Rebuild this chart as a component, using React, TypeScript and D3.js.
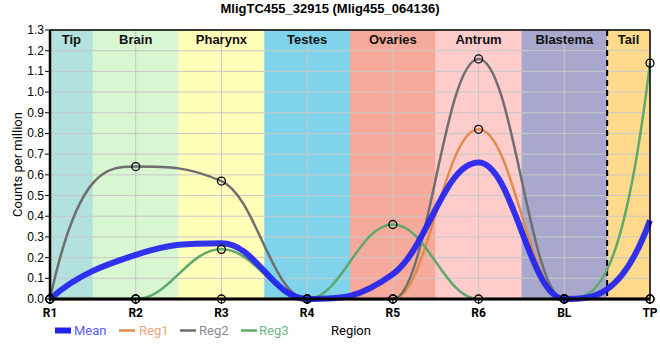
import React from "react";
import * as d3 from "d3";

const categories = ["R1", "R2", "R3", "R4", "R5", "R6", "BL", "TP"];
const reg1 = [0, 0, 0, 0, 0, 0.82, 0, 0];
const reg2 = [0, 0.64, 0.57, 0, 0, 1.16, 0, 0];
const reg3 = [0, 0, 0.24, 0, 0.36, 0, 0, 1.14];
const meanVals = reg1.map((v, i) => (v + reg2[i] + reg3[i]) / 3);
const regions = ["Tip", "Brain", "Pharynx", "Testes", "Ovaries", "Antrum", "Blastema", "Tail"];
const regionColors = ["#b3e2de", "#d7f6d1", "#ffffb8", "#7fd4eb", "#f5aa9b", "#ffcccc", "#a8a8cc", "#ffda8c"];
const yTicks = d3.range(0, 14).map((i) => i / 10);

const W = 660, H = 360;
const L = 50, R = 650, T = 30, B = 299;

function SplineCurve(this: any, context: any) {
  this._context = context;
}
SplineCurve.prototype = {
  areaStart() { this._line = 0; },
  areaEnd() { this._line = NaN; },
  lineStart() { this._pts = []; },
  point(x: number, y: number) { this._pts.push([+x, +y]); },
  lineEnd() {
    const p: number[][] = this._pts;
    const ctx = this._context;
    const n = p.length;
    if (!n) return;
    const s = 1.5, den = s + 1;
    const lc: (number[] | null)[] = [];
    const rc: (number[] | null)[] = [];
    for (let i = 0; i < n; i++) {
      if (i === 0 || i === n - 1) { lc.push(null); rc.push(null); continue; }
      const [px, py] = p[i];
      const [lx, ly] = p[i - 1];
      const [nx, ny] = p[i + 1];
      const lcx = (s * px + lx) / den;
      let lcy = (s * py + ly) / den;
      const rcx = (s * px + nx) / den;
      let rcy = (s * py + ny) / den;
      let corr = 0;
      if (rcx !== lcx) corr = ((rcy - lcy) * (rcx - px)) / (rcx - lcx) + py - rcy;
      lcy += corr; rcy += corr;
      if (lcy > ly && lcy > py) { lcy = Math.max(ly, py); rcy = 2 * py - lcy; }
      else if (lcy < ly && lcy < py) { lcy = Math.min(ly, py); rcy = 2 * py - lcy; }
      if (rcy > ny && rcy > py) { rcy = Math.max(ny, py); lcy = 2 * py - rcy; }
      else if (rcy < ny && rcy < py) { rcy = Math.min(ny, py); lcy = 2 * py - rcy; }
      lc.push([lcx, lcy]); rc.push([rcx, rcy]);
    }
    if (n > 2) {
      {
        // first segment as a Hermite cubic
        const h = p[1][0] - p[0][0];
        const d = (p[1][1] - p[0][1]) / h;
        const c1 = lc[1] as number[], c2 = rc[1] as number[];
        const m1 = (c2[1] - c1[1]) / (c2[0] - c1[0]);
        const m0 = 3 * d - 2 * m1;
        rc[0] = [p[0][0] + h / 3, p[0][1] + (m0 * h) / 3];
        const lc1 = [p[1][0] - h / 3, p[1][1] - (m1 * h) / 3];
        (this as any)._first = lc1;
      }
      {
        const h = p[n - 1][0] - p[n - 2][0];
        const d = (p[n - 1][1] - p[n - 2][1]) / h;
        const c1 = lc[n - 2] as number[], c2 = rc[n - 2] as number[];
        const m1 = (c2[1] - c1[1]) / (c2[0] - c1[0]);
        const m0 = 3 * d - 2 * m1;
        lc[n - 1] = [p[n - 1][0] - h / 3, p[n - 1][1] - (m0 * h) / 3];
        rc[n - 2] = [p[n - 2][0] + h / 3, p[n - 2][1] + (m1 * h) / 3];
      }
    }
    ctx.moveTo(p[0][0], p[0][1]);
    for (let i = 1; i < n; i++) {
      const c1 = rc[i - 1] || p[i - 1];
      const c2 = i === 1 && n > 2 ? (this as any)._first : lc[i] || p[i];
      ctx.bezierCurveTo(c1[0], c1[1], c2[0], c2[1], p[i][0], p[i][1]);
    }
  },
};
const curveSpline = (context: any) => new (SplineCurve as any)(context);

export default function App() {
  const x = d3.scalePoint<string>().domain(categories).range([L, R]);
  const y = d3.scaleLinear().domain([0, 1.3]).range([B, T]);
  const step = x.step();
  const line = d3
    .line<number>()
    .x((_, i) => x(categories[i]) as number)
    .y((d) => y(d))
    .curve(curveSpline as any);

  const series = [
    { name: "Reg1", vals: reg1, color: "#e38b4c", w: 2.5 },
    { name: "Reg2", vals: reg2, color: "#6e6e6e", w: 2.5 },
    { name: "Reg3", vals: reg3, color: "#5ea86b", w: 2.5 },
  ];

  const bands = regions.map((r, i) => {
    const c = x(categories[i]) as number;
    const x0 = Math.max(L, c - step / 2);
    const x1 = Math.min(R, c + step / 2);
    return { r, x0, x1, color: regionColors[i] };
  });

  const font = "Liberation Sans, Arial, sans-serif";
  const font2 = "Roboto, sans-serif";

  return (
    <svg width={W} height={H} style={{ position: "absolute", left: 0, top: 0 }}>
      <rect x={0} y={0} width={W} height={H} fill="#fff" />
      <text x={330} y={13} textAnchor="middle" fontFamily={font} fontWeight="bold" fontSize={13}>
        MligTC455_32915 (Mlig455_064136)
      </text>
      {bands.map((b) => (
        <rect key={b.r} x={b.x0} y={T} width={b.x1 - b.x0} height={B - T} fill={b.color} />
      ))}
      {yTicks.map((t) => (
        <line key={t} x1={L} x2={R} y1={y(t)} y2={y(t)} stroke="#c8c8c8" strokeWidth={1} />
      ))}
      {categories.map((c) => (
        <line key={c} x1={x(c)} x2={x(c)} y1={T} y2={B} stroke="#c8c8c8" strokeWidth={1} />
      ))}
      {bands.map((b) => (
        <text key={b.r} x={(b.x0 + b.x1) / 2} y={44} textAnchor="middle" fontFamily={font} fontWeight="bold" fontSize={13} fill="#111">
          {b.r}
        </text>
      ))}
      <line x1={bands[7].x0} x2={bands[7].x0} y1={T} y2={B} stroke="#000" strokeWidth={2} strokeDasharray="6,4" />
      {series.map((s) => (
        <path key={s.name} d={line(s.vals) || ""} fill="none" stroke={s.color} strokeWidth={s.w} />
      ))}
      <path d={line(meanVals) || ""} fill="none" stroke="#2222f0" strokeOpacity={0.92} strokeWidth={6} />
      <line x1={L} x2={R} y1={T} y2={T} stroke="#000" strokeWidth={1.5} />
      <line x1={R} x2={R} y1={T} y2={B} stroke="#000" strokeWidth={1.5} />
      <line x1={L} x2={L} y1={T} y2={B + 1.5} stroke="#000" strokeWidth={2.5} />
      <line x1={L - 1} x2={R} y1={B} y2={B} stroke="#000" strokeWidth={3} />
      {yTicks.map((t) => (
        <g key={t}>
          <line x1={L - 5} x2={L} y1={y(t)} y2={y(t)} stroke="#000" strokeWidth={1} />
          <text x={L - 6} y={y(t) + 4} textAnchor="end" fontFamily={font} fontSize={12} fill="#000">
            {t.toFixed(1)}
          </text>
        </g>
      ))}
      {categories.map((c) => (
        <g key={c}>
          <line x1={x(c)} x2={x(c)} y1={B} y2={B + 5} stroke="#000" strokeWidth={1} />
          <text x={x(c)} y={317} textAnchor="middle" fontFamily={font2} fontWeight="bold" fontSize={12} fill="#000">
            {c}
          </text>
        </g>
      ))}
      {series.map((s) =>
        s.vals.map((v, i) => (
          <circle key={s.name + i} cx={x(categories[i])} cy={y(v)} r={4} fill="none" stroke="#000" strokeWidth={1.3} />
        ))
      )}
      <text transform={`translate(22,${(T + B) / 2}) rotate(-90)`} textAnchor="middle" fontFamily={font2} fontSize={13} fill="#000">
        Counts per million
      </text>
      <rect x={55} y={327.5} width={16} height={6} fill="#2222f0" />
      <text x={74} y={335} fontFamily={font2} fontSize={13} fill="#5a5aff">Mean</text>
      <line x1={119} x2={135} y1={330.5} y2={330.5} stroke="#e38b4c" strokeWidth={2.5} />
      <text x={139} y={335} fontFamily={font2} fontSize={13} fill="#eea57a">Reg1</text>
      <line x1={180} x2={196} y1={330.5} y2={330.5} stroke="#6e6e6e" strokeWidth={2.5} />
      <text x={199} y={335} fontFamily={font2} fontSize={13} fill="#8a8a9e">Reg2</text>
      <line x1={241} x2={257} y1={330.5} y2={330.5} stroke="#5ea86b" strokeWidth={2.5} />
      <text x={259} y={335} fontFamily={font2} fontSize={13} fill="#72b486">Reg3</text>
      <text x={331} y={335} fontFamily={font2} fontSize={13} fill="#000">Region</text>
    </svg>
  );
}
